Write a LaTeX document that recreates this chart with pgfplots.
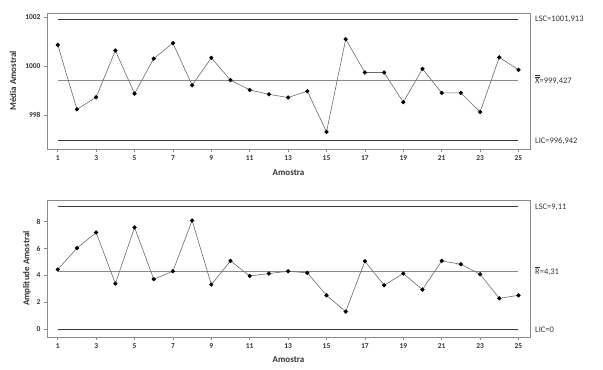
\documentclass[border=0pt]{standalone}
\usepackage{pgfplots}
\pgfplotsset{compat=1.18}
\usepackage{fontspec}
\setmainfont{Carlito}
\definecolor{frame}{HTML}{8A8A8A}
\definecolor{limit}{HTML}{3A3A3A}
\definecolor{center}{HTML}{8A8A8A}
\definecolor{dataline}{HTML}{6A6A6A}
\newcommand{\dbar}[1]{{\setbox0\hbox{#1}\rlap{\raisebox{\dimexpr\ht0+1.2pt\relax}{\rule{\wd0}{0.4pt}}}\rlap{\raisebox{\dimexpr\ht0+2.6pt\relax}{\rule{\wd0}{0.4pt}}}#1}}
\newcommand{\sbar}[1]{{\setbox0\hbox{#1}\rlap{\raisebox{\dimexpr\ht0+1.2pt\relax}{\rule{\wd0}{0.4pt}}}#1}}
\pgfplotsset{
  cc/.style={
    scale only axis, width=483bp, clip=false,
    axis line style={frame, line width=0.8pt},
    tick align=outside, major tick length=3bp,
    tick style={frame, line width=0.8pt},
    xtick={1,3,...,25}, xmin=0.44, xmax=25.6,
    xtick pos=bottom, ytick pos=left,
    /pgf/number format/assume math mode=true,
    /pgf/number format/1000 sep={},
    ticklabel style={font=\fontsize{7.5}{9}\selectfont\bfseries, text=black!80},
    label style={font=\fontsize{9}{11}\selectfont\bfseries, text=black!80},
    xlabel={Amostra},
    xlabel style={at={(rel axis cs:0.5,0)}, anchor=center},
  },
}
\tikzset{rl/.style={anchor=west, xshift=5bp, font=\fontsize{8.5}{10}\selectfont, text=black!80, inner sep=0pt},
  yl/.style={rotate=90, anchor=center, font=\fontsize{9}{11}\selectfont\bfseries, text=black!80, inner sep=0pt}}
\begin{document}
\begin{tikzpicture}
\useasboundingbox (0,0) rectangle (603bp,370bp);
% ---------- top chart ----------
\begin{axis}[cc, at={(47bp,221bp)}, anchor=south west, height=136bp,
  ymin=996.61, ymax=1002.16, ytick={998,1000,1002},
  xlabel style={yshift=-24bp}]
\draw[frame, line width=0.8pt] (rel axis cs:0,0) rectangle (rel axis cs:1,1);
\addplot[limit, line width=0.8pt] coordinates {(1,1001.913) (25,1001.913)};
\addplot[center, line width=0.5pt] coordinates {(1,999.427) (25,999.427)};
\addplot[limit, line width=0.8pt] coordinates {(1,996.942) (25,996.942)};
\addplot[dataline, line width=0.6pt, mark=*, mark size=1.8pt, mark options={fill=black, draw=black}] coordinates {
(1,1000.86) (2,998.23) (3,998.72) (4,1000.63) (5,998.87) (6,1000.30) (7,1000.93)
(8,999.21) (9,1000.33) (10,999.42) (11,999.02) (12,998.84) (13,998.71) (14,998.97)
(15,997.31) (16,1001.09) (17,999.73) (18,999.73) (19,998.52) (20,999.88) (21,998.90)
(22,998.90) (23,998.12) (24,1000.35) (25,999.84)};
\node[rl] at (axis cs:25.6,1001.913) {LSC=1001,913};
\node[rl] at (axis cs:25.6,999.427) {\dbar{X}=999,427};
\node[rl] at (axis cs:25.6,996.942) {LIC=996,942};
\node[yl] at (axis cs:-1.33,999.385) {Média Amostral};
\end{axis}
% ---------- bottom chart ----------
\begin{axis}[cc, at={(47bp,33bp)}, anchor=south west, height=137bp,
  ymin=-0.57, ymax=9.62, ytick={0,2,...,8},
  xlabel style={yshift=-23bp}]
\draw[frame, line width=0.8pt] (rel axis cs:0,0) rectangle (rel axis cs:1,1);
\addplot[limit, line width=0.8pt] coordinates {(1,9.11) (25,9.11)};
\addplot[center, line width=0.5pt] coordinates {(1,4.31) (25,4.31)};
\addplot[limit, line width=0.8pt] coordinates {(1,0) (25,0)};
\addplot[dataline, line width=0.6pt, mark=*, mark size=1.8pt, mark options={fill=black, draw=black}] coordinates {
(1,4.45) (2,6.04) (3,7.20) (4,3.40) (5,7.58) (6,3.73) (7,4.32) (8,8.10) (9,3.33)
(10,5.09) (11,3.97) (12,4.15) (13,4.32) (14,4.20) (15,2.53) (16,1.32) (17,5.07)
(18,3.28) (19,4.15) (20,2.96) (21,5.09) (22,4.84) (23,4.10) (24,2.31) (25,2.53)};
\node[rl] at (axis cs:25.6,9.11) {LSC=9,11};
\node[rl] at (axis cs:25.6,4.31) {\sbar{R}=4,31};
\node[rl] at (axis cs:25.6,0) {LIC=0};
\node[yl] at (axis cs:-0.60,4.525) {Amplitude Amostral};
\end{axis}
\end{tikzpicture}
\end{document}
